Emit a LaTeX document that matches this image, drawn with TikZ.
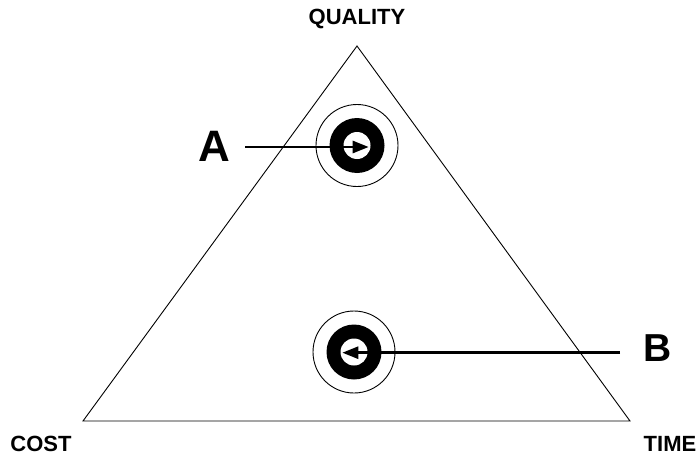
\documentclass[tikz,border=0pt]{standalone}
\usepackage{fontspec}
\setmainfont{Liberation Sans}
\usetikzlibrary{arrows.meta,positioning}

\begin{document}
\begin{tikzpicture}[
  x=1pt, y=-1pt,
  corner/.style={font=\fontsize{22}{22}\selectfont\bfseries, inner sep=0pt},
  letter/.style={font=\fontsize{#1}{#1}\selectfont\bfseries, inner sep=0pt},
  ring/.style={circle, draw=black, line width=0.9pt, minimum size=82pt, inner sep=0pt},
  disk/.style={circle, fill=black, minimum size=55pt, inner sep=0pt},
  hole/.style={circle, fill=white, minimum size=27pt, inner sep=0pt},
  pointer/.style={line width=2.6pt, shorten >=2pt, -{Triangle[length=16pt, width=12pt]}}
]
\useasboundingbox (0,0) rectangle (699,455);

% Triangle
\coordinate (top) at (357,46);
\coordinate (left) at (83,421);
\coordinate (right) at (630,421);
\draw[line width=0.9pt, line join=miter] (top) -- (left) -- (right) -- cycle;

% Corner labels
\node[corner] (quality) at (357,19) {QUALITY};
\node[corner] (cost) at (41,444) {COST};
\node[corner] (time) at (670,444) {TIME};

% Target A
\node[ring] (ringA) at (357,145.5) {};
\node[disk] (diskA) at (ringA.center) {};
\node[hole] (holeA) at (ringA.center) {};
\node[letter=44] (labelA) at (214,146) {A};
\coordinate (fromA) at (245,147);
\draw[pointer] (fromA) -- (fromA -| holeA.east);

% Target B
\node[ring] (ringB) at (354,352) {};
\node[disk] (diskB) at (ringB.center) {};
\node[hole] (holeB) at (ringB.center) {};
\node[letter=39] (labelB) at (658,348) {B};
\coordinate (fromB) at (620,352.7);
\draw[pointer] (fromB) -- (fromB -| holeB.west);

\end{tikzpicture}
\end{document}
